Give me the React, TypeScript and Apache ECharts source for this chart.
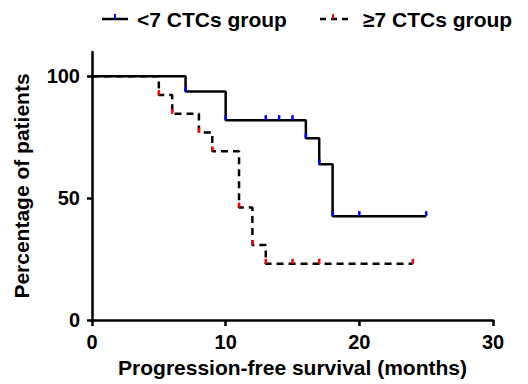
import React, { useEffect, useRef } from "react";
import * as echarts from "echarts";

// Kaplan–Meier points [months, % patients]
const lowGroupName = "<7 CTCs group";
const highGroupName = "≥7 CTCs group";
const lowGroup: number[][] = [
  [0, 100], [7, 93.75], [10, 82.03], [13, 82.03], [14, 82.03], [15, 82.03],
  [16, 74.57], [17, 63.92], [18, 42.61], [20, 42.61], [25, 42.61],
];
const highGroup: number[][] = [
  [0, 100], [5, 92.31], [6, 84.62], [8, 76.92], [9, 69.23], [11, 46.15],
  [12, 30.77], [13, 23.08], [15, 23.08], [17, 23.08], [24, 23.08],
];
const xTicks = [0, 10, 20, 30];
const yTicks = [0, 50, 100];

const FONT = "Liberation Sans, Arial, sans-serif";

function toData(points: number[][]) {
  return points.map((p, i) =>
    i === 0 ? { value: p, symbol: "none" } : { value: p }
  );
}

export default function App() {
  const ref = useRef<HTMLDivElement>(null);
  useEffect(() => {
    if (!ref.current) return;
    const chart = echarts.init(ref.current, null, { renderer: "svg" });
    chart.setOption({
      animation: false,
      backgroundColor: "#ffffff",
      grid: { left: 92, right: 35, top: 52, bottom: 64, containLabel: false, outerBoundsMode: "none" },
      xAxis: {
        type: "value",
        min: 0,
        max: 30,
        interval: 10,
        name: "Progression-free survival (months)",
        nameLocation: "middle",
        nameGap: 31,
        nameTextStyle: { fontFamily: FONT, fontWeight: "bold", fontSize: 21, color: "#000" },
        axisLine: { show: true, lineStyle: { color: "#000", width: 2.5 } },
        axisTick: { show: true, length: 6, lineStyle: { color: "#000", width: 2.5 }, customValues: xTicks },
        axisLabel: { fontFamily: FONT, fontWeight: "bold", fontSize: 20, color: "#000", margin: 12, customValues: xTicks },
        splitLine: { show: false },
      },
      yAxis: {
        type: "value",
        min: 0,
        max: 110,
        interval: 50,
        name: "Percentage of patients",
        nameLocation: "middle",
        nameGap: 60,
        nameTextStyle: { fontFamily: FONT, fontWeight: "bold", fontSize: 21, color: "#000" },
        axisLine: { show: true, lineStyle: { color: "#000", width: 2.5 } },
        axisTick: { show: true, length: 5, lineStyle: { color: "#000", width: 2.5 }, customValues: yTicks },
        axisLabel: { fontFamily: FONT, fontWeight: "bold", fontSize: 20, color: "#000", margin: 12, customValues: yTicks },
        splitLine: { show: false },
      },
      graphic: [
        { type: "line", shape: { x1: 102, y1: 19, x2: 128, y2: 19 }, style: { stroke: "#000", lineWidth: 2.5 } },
        { type: "rect", shape: { x: 114, y: 14, width: 2, height: 5 }, style: { fill: "#0000ff" } },
        {
          type: "text", x: 137, y: 19,
          style: { text: lowGroupName, fontFamily: FONT, fontWeight: "bold", fontSize: 21, fill: "#000", verticalAlign: "middle" },
        },
        { type: "line", shape: { x1: 320, y1: 19, x2: 351, y2: 19 }, style: { stroke: "#000", lineWidth: 2.5, lineDash: [6, 5] } },
        { type: "rect", shape: { x: 332, y: 14, width: 2, height: 5 }, style: { fill: "#ff0000" } },
        {
          type: "text", x: 363, y: 19,
          style: { text: highGroupName, fontFamily: FONT, fontWeight: "bold", fontSize: 21, fill: "#000", verticalAlign: "middle" },
        },
      ],
      series: [
        {
          name: lowGroupName,
          type: "line",
          step: "end",
          data: toData(lowGroup),
          lineStyle: { color: "#000", width: 2.5 },
          symbol: "rect",
          symbolSize: [2.5, 5],
          symbolOffset: [0, "-50%"],
          itemStyle: { color: "#0000ff" },
          z: 3,
        },
        {
          name: highGroupName,
          type: "line",
          step: "end",
          data: toData(highGroup),
          lineStyle: { color: "#000", width: 2.5, type: [7, 5] },
          symbol: "rect",
          symbolSize: [2.5, 5],
          symbolOffset: [0, "-50%"],
          itemStyle: { color: "#ff0000" },
          z: 4,
        },
      ],
    });
    return () => chart.dispose();
  }, []);
  return <div ref={ref} style={{ position: "fixed", left: 0, top: 0, width: 528, height: 384 }} />;
}
